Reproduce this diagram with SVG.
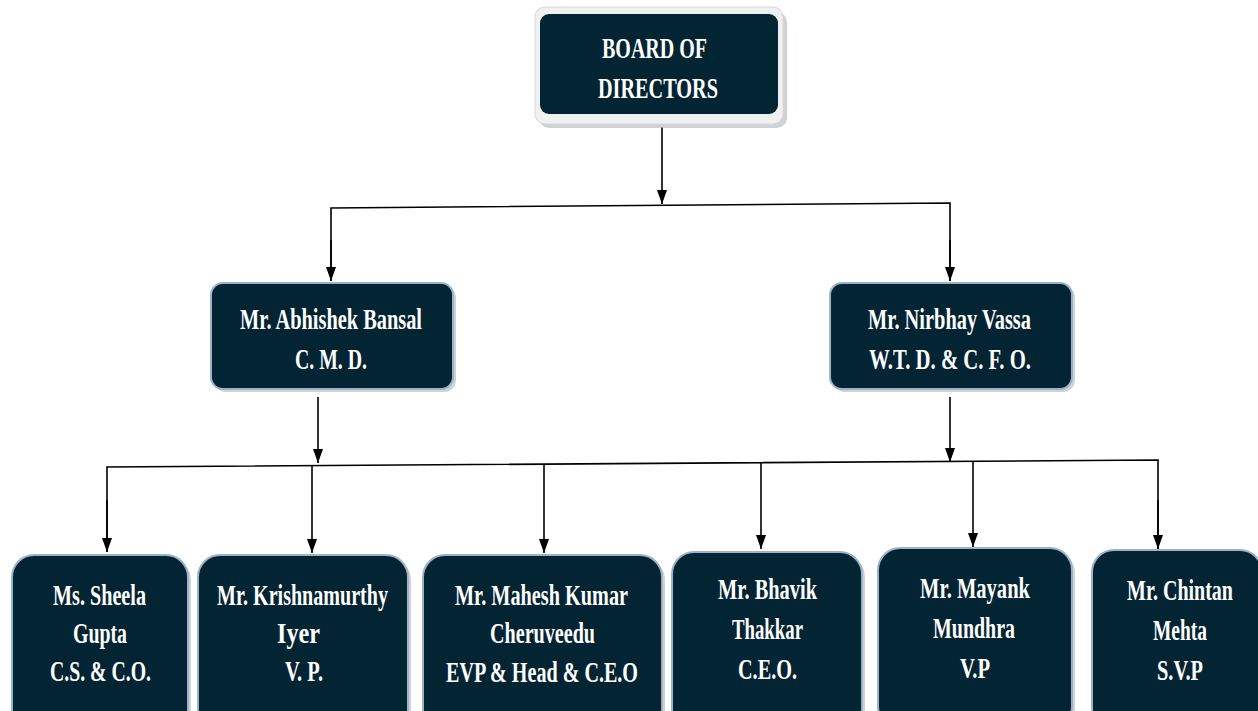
<svg xmlns="http://www.w3.org/2000/svg" width="1258" height="711" viewBox="0 0 1258 711">
<style>
.box{fill:#032432;stroke:#9db2c8;stroke-width:2}
.shadow{fill:#b9bfc6;opacity:0.7}
.frame{fill:#f0f0f0;stroke:#d8d8d8;stroke-width:1}
.t{font-family:"Liberation Serif","Times New Roman",serif;font-weight:bold;font-size:30px;fill:#ffffff;text-anchor:start}
.ln{stroke:#000;stroke-width:1.6;fill:none}
</style>
<defs>
<marker id="ah" markerUnits="userSpaceOnUse" viewBox="0 0 14 10" markerWidth="14" markerHeight="10" refX="14" refY="5" orient="auto">
<path d="M0,0 L14,5 L0,10 z" fill="#000"/>
</marker>
</defs>
<rect width="1258" height="711" fill="#ffffff"/>
<g id="connectors">
<line class="ln" x1="662" y1="127" x2="662" y2="204" marker-end="url(#ah)"/>
<polyline class="ln" points="331,281 331,208 950,203 950,281"/>
<line class="ln" x1="331" y1="240" x2="331" y2="281" marker-end="url(#ah)"/>
<line class="ln" x1="950" y1="240" x2="950" y2="281" marker-end="url(#ah)"/>
<line class="ln" x1="318" y1="397" x2="318" y2="463" marker-end="url(#ah)"/>
<line class="ln" x1="950" y1="397" x2="950" y2="462" marker-end="url(#ah)"/>
<polyline class="ln" points="107,552 107,467 1158,460 1158,549"/>
<line class="ln" x1="107" y1="500" x2="107" y2="552" marker-end="url(#ah)"/>
<line class="ln" x1="1158" y1="500" x2="1158" y2="549" marker-end="url(#ah)"/>
<line class="ln" x1="312" y1="466" x2="312" y2="553" marker-end="url(#ah)"/>
<line class="ln" x1="544" y1="465" x2="544" y2="553" marker-end="url(#ah)"/>
<line class="ln" x1="761" y1="463" x2="761" y2="549" marker-end="url(#ah)"/>
<line class="ln" x1="973" y1="461" x2="973" y2="547" marker-end="url(#ah)"/>
</g>
<g id="board">
<rect class="shadow" x="539" y="12" width="248" height="116" rx="10"/>
<rect class="frame" x="535" y="7" width="248" height="117" rx="10"/>
<rect x="540" y="14" width="238" height="100" rx="9" fill="#032432"/>
<text class="t" x="602" y="58" textLength="105" lengthAdjust="spacingAndGlyphs">BOARD OF</text>
<text class="t" x="598" y="98" textLength="120" lengthAdjust="spacingAndGlyphs">DIRECTORS</text>
</g>
<g id="abhishek">
<rect class="shadow" x="214" y="286" width="242" height="106" rx="12"/>
<rect class="box" x="211" y="283" width="242" height="106" rx="12"/>
<text class="t" x="240" y="329" textLength="182" lengthAdjust="spacingAndGlyphs">Mr. Abhishek Bansal</text>
<text class="t" x="295" y="369" textLength="72" lengthAdjust="spacingAndGlyphs">C. M. D.</text>
</g>
<g id="nirbhay">
<rect class="shadow" x="833" y="286" width="242" height="106" rx="12"/>
<rect class="box" x="830" y="283" width="242" height="106" rx="12"/>
<text class="t" x="868" y="329" textLength="163" lengthAdjust="spacingAndGlyphs">Mr. Nirbhay Vassa</text>
<text class="t" x="869" y="369" textLength="162" lengthAdjust="spacingAndGlyphs">W.T. D. &amp; C. F. O.</text>
</g>
<g id="sheela">
<rect class="shadow" x="15" y="558" width="176" height="180" rx="22"/>
<rect class="box" x="12" y="555" width="176" height="180" rx="22"/>
<text class="t" x="53" y="605" textLength="93" lengthAdjust="spacingAndGlyphs">Ms. Sheela</text>
<text class="t" x="73" y="643" textLength="54" lengthAdjust="spacingAndGlyphs">Gupta</text>
<text class="t" x="50" y="681" textLength="101" lengthAdjust="spacingAndGlyphs">C.S. &amp; C.O.</text>
</g>
<g id="krishnamurthy">
<rect class="shadow" x="201" y="558" width="210" height="180" rx="22"/>
<rect class="box" x="198" y="555" width="210" height="180" rx="22"/>
<text class="t" x="217" y="605" textLength="171" lengthAdjust="spacingAndGlyphs">Mr. Krishnamurthy</text>
<text class="t" x="277" y="643" textLength="43" lengthAdjust="spacingAndGlyphs">Iyer</text>
<text class="t" x="285" y="681" textLength="38" lengthAdjust="spacingAndGlyphs">V. P.</text>
</g>
<g id="mahesh">
<rect class="shadow" x="426" y="558" width="239" height="180" rx="22"/>
<rect class="box" x="423" y="555" width="239" height="180" rx="22"/>
<text class="t" x="455" y="605" textLength="173" lengthAdjust="spacingAndGlyphs">Mr. Mahesh Kumar</text>
<text class="t" x="490" y="643" textLength="105" lengthAdjust="spacingAndGlyphs">Cheruveedu</text>
<text class="t" x="446" y="682" textLength="192" lengthAdjust="spacingAndGlyphs">EVP &amp; Head &amp; C.E.O</text>
</g>
<g id="bhavik">
<rect class="shadow" x="675" y="555" width="190" height="180" rx="22"/>
<rect class="box" x="672" y="552" width="190" height="180" rx="22"/>
<text class="t" x="718" y="599" textLength="99" lengthAdjust="spacingAndGlyphs">Mr. Bhavik</text>
<text class="t" x="732" y="639" textLength="71" lengthAdjust="spacingAndGlyphs">Thakkar</text>
<text class="t" x="738" y="679" textLength="59" lengthAdjust="spacingAndGlyphs">C.E.O.</text>
</g>
<g id="mayank">
<rect class="shadow" x="881" y="551" width="194" height="180" rx="22"/>
<rect class="box" x="878" y="548" width="194" height="180" rx="22"/>
<text class="t" x="920" y="598" textLength="110" lengthAdjust="spacingAndGlyphs">Mr. Mayank</text>
<text class="t" x="933" y="638" textLength="82" lengthAdjust="spacingAndGlyphs">Mundhra</text>
<text class="t" x="960" y="678" textLength="30" lengthAdjust="spacingAndGlyphs">V.P</text>
</g>
<g id="chintan">
<rect class="shadow" x="1095" y="553" width="170" height="180" rx="22"/>
<rect class="box" x="1092" y="550" width="170" height="180" rx="22"/>
<text class="t" x="1127" y="600" textLength="106" lengthAdjust="spacingAndGlyphs">Mr. Chintan</text>
<text class="t" x="1153" y="640" textLength="54" lengthAdjust="spacingAndGlyphs">Mehta</text>
<text class="t" x="1157" y="680" textLength="46" lengthAdjust="spacingAndGlyphs">S.V.P</text>
</g>
</svg>
